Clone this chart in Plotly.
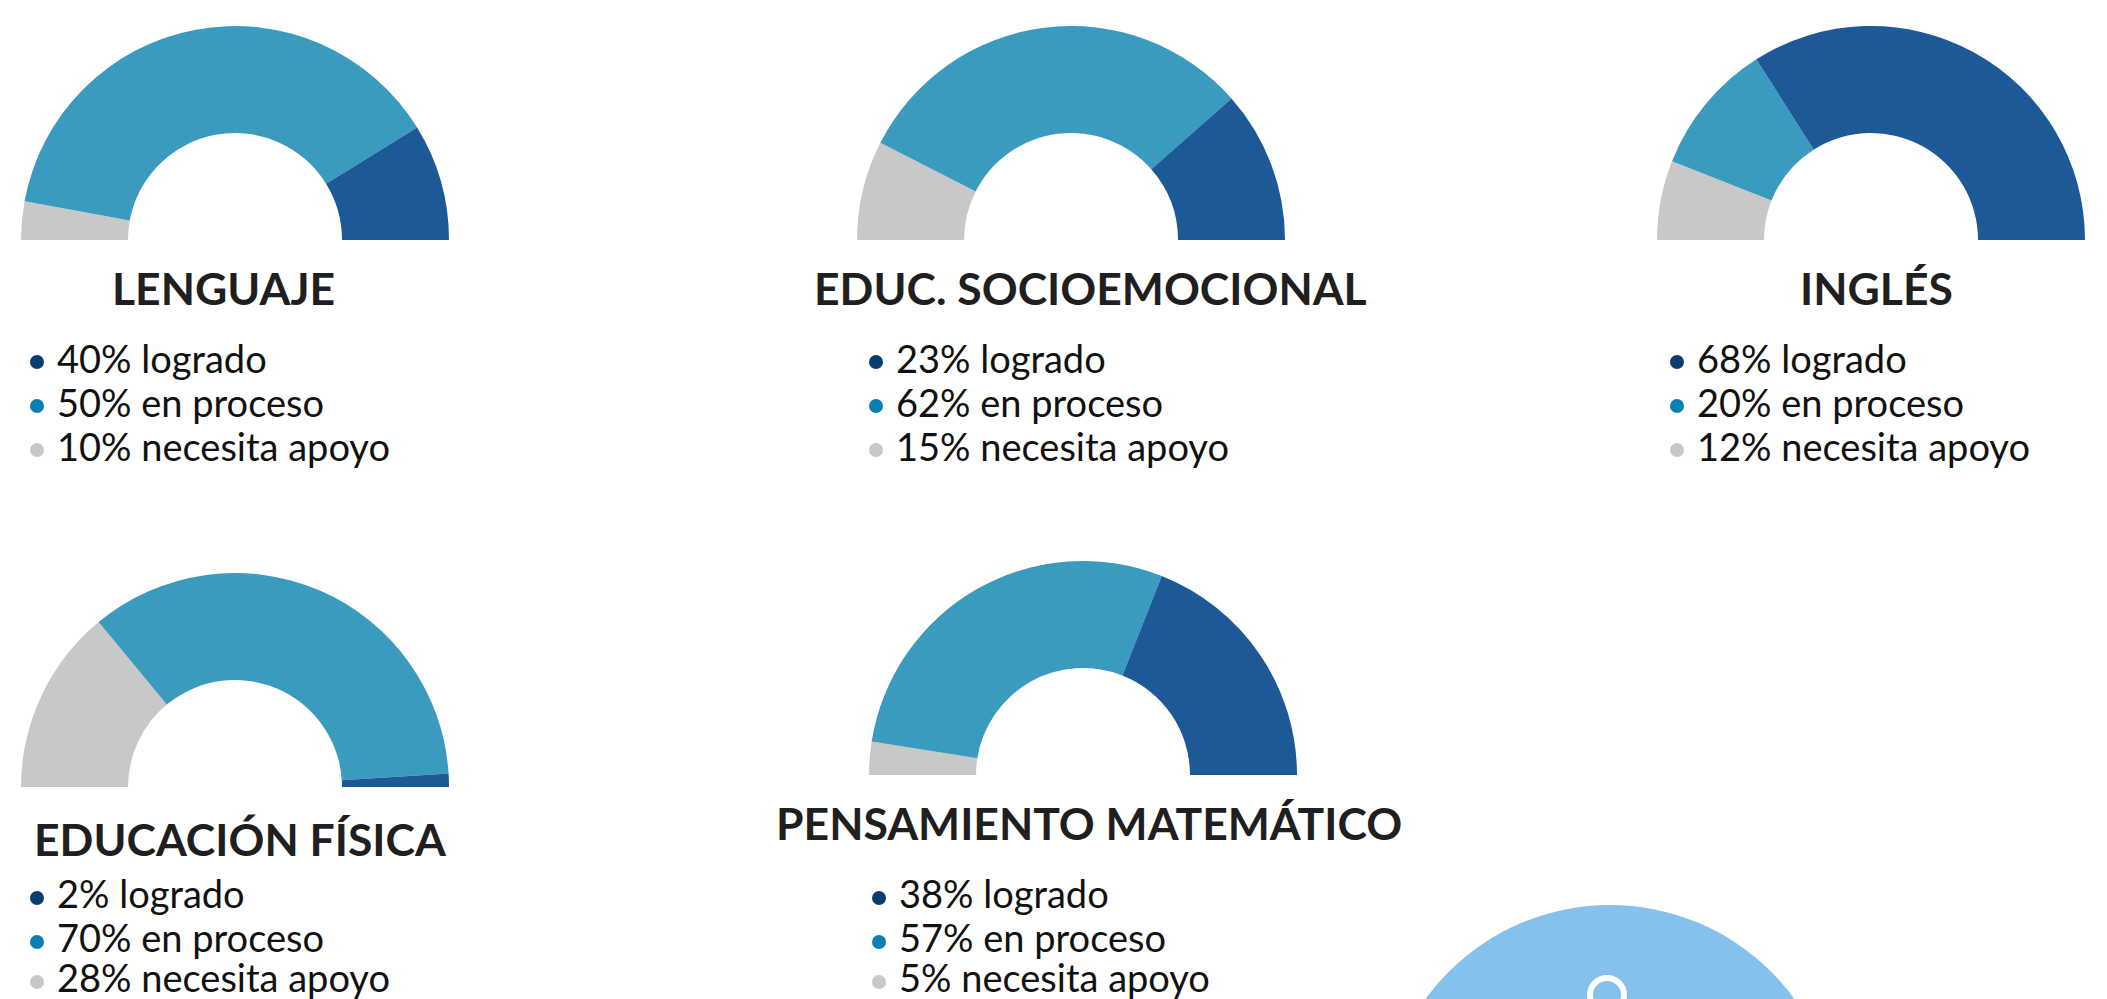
import plotly.graph_objects as go

W, H = 2107, 1010  # page is cropped to 999 tall; the last gauge's hidden half needs room

subjects = ["LENGUAJE", "EDUC. SOCIOEMOCIONAL", "INGLÉS", "EDUCACIÓN FÍSICA", "PENSAMIENTO MATEMÁTICO"]
# shown percentages
logrado = [40, 23, 68, 2, 38]
en_proceso = [50, 62, 20, 70, 57]
necesita_apoyo = [10, 15, 12, 28, 5]
# slice shares as drawn in the picture (Lenguaje's arcs differ from its labels)
arc_logrado = [17.6, 23, 68, 2, 38]
arc_proceso = [76.6, 62, 20, 70, 57]
arc_apoyo = [5.8, 15, 12, 28, 5]

centers = [(235, 240), (1071, 240), (1871, 240), (235, 787), (1083, 775)]
title_pos = [(223, 287), (1090, 287), (1876, 287), (240, 838), (1089, 822)]
dot_x = [37, 876, 1677, 37, 879]
text_x = [55, 894, 1695, 55, 897]
dot_y = [(362, 406, 450), (362, 406, 450), (362, 406, 450), (898, 942, 982), (898, 942, 982)]
text_y = [(358, 402, 446), (358, 402, 446), (358, 402, 446), (893, 937, 977), (893, 937, 977)]

R = 214
HOLE = 0.5
C_LOGRADO, C_PROCESO, C_APOYO = "#1c5996", "#3a9bbf", "#c8c8c8"
D_LOGRADO, D_PROCESO, D_APOYO = "#0a3d6f", "#0b7fb3", "#c8c8c8"
INK = "#1f1f1f"
FONT = "Lato"

fig = go.Figure()
for i, s in enumerate(subjects):
    cx, cy = centers[i]
    fig.add_trace(go.Pie(
        values=[arc_apoyo[i], arc_proceso[i], arc_logrado[i],
                arc_apoyo[i] + arc_proceso[i] + arc_logrado[i]],
        labels=["apoyo", "proceso", "logrado", "vacío"],
        sort=False, direction="clockwise", rotation=270, hole=HOLE,
        marker=dict(colors=[C_APOYO, C_PROCESO, C_LOGRADO, "rgba(0,0,0,0)"], line=dict(width=0)),
        textinfo="none", hoverinfo="skip", showlegend=False,
        domain=dict(x=[(cx - R) / W, (cx + R) / W], y=[1 - (cy + R) / H, 1 - (cy - R) / H]),
    ))
    fig.add_trace(go.Scatter(
        x=[dot_x[i]] * 3, y=list(dot_y[i]), mode="markers",
        marker=dict(size=14, color=[D_LOGRADO, D_PROCESO, D_APOYO], line=dict(width=0)),
        hoverinfo="skip", showlegend=False,
    ))
    fig.add_annotation(x=title_pos[i][0], y=title_pos[i][1], text=f"<b>{s}</b>", showarrow=False,
                       xanchor="center", yanchor="middle", font=dict(family=FONT, size=44.5, color=INK))
    rows = [f"{logrado[i]}% logrado", f"{en_proceso[i]}% en proceso", f"{necesita_apoyo[i]}% necesita apoyo"]
    for t, y in zip(rows, text_y[i]):
        fig.add_annotation(x=text_x[i], y=y, text=t, showarrow=False, xanchor="left", yanchor="middle",
                           font=dict(family=FONT, size=38, color="#111111"))

# bottom-right icon: blue disc with the top of a white ring
fig.add_shape(type="circle", x0=1610 - 228, x1=1610 + 228, y0=905, y1=905 + 456,
              fillcolor="#86c0ec", line=dict(width=0), layer="below")
fig.add_shape(type="circle", x0=1607 - 17, x1=1607 + 17, y0=978, y1=1012,
              fillcolor="rgba(0,0,0,0)", line=dict(width=6, color="#ffffff"), layer="below")

fig.update_layout(
    width=W, height=H, margin=dict(l=0, r=0, t=0, b=0, pad=0), autosize=False,
    paper_bgcolor="#ffffff", plot_bgcolor="#ffffff",
    xaxis=dict(range=[0, W], visible=False, fixedrange=True),
    yaxis=dict(range=[H, 0], visible=False, fixedrange=True),
)
fig.write_html("out.html", config=dict(displayModeBar=False),
               post_script="document.documentElement.style.overflow='hidden';document.body.style.margin='0';document.body.style.overflow='hidden';")
